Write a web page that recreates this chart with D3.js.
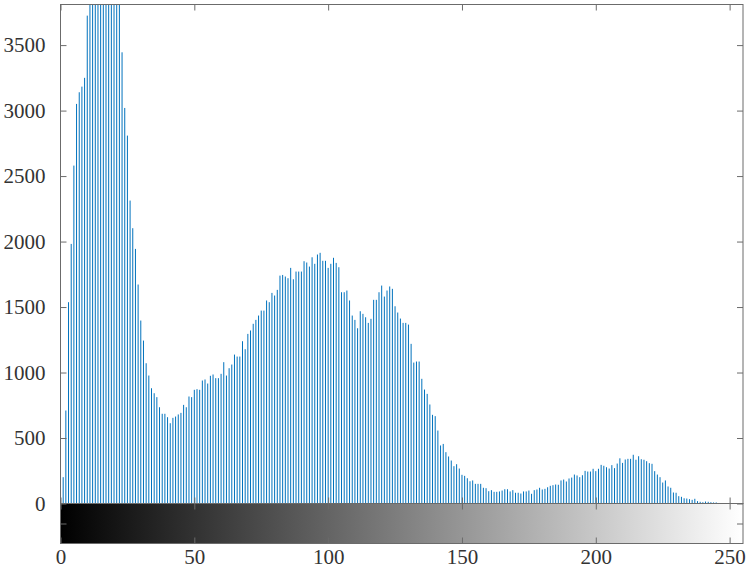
<!DOCTYPE html>
<html>
<head>
<meta charset="utf-8">
<script src="https://cdn.jsdelivr.net/npm/d3@7"></script>
<style>
body { margin: 0; background: #fff; }
text { font-family: "Liberation Serif", "Times New Roman", serif; }
</style>
</head>
<body>
<svg id="chart"></svg>
<script>
// pixel counts per gray level 0..255 (levels 11-22 run past the top of the axes)
var counts = [
	420, 201, 710, 1537, 1982, 2580, 3051, 3140, 3183, 3250,
	3725, 4050, 4400, 4700, 4900, 5000, 5050, 4950, 4800, 4600,
	4400, 4200, 3950, 3445, 3020, 2809, 2313, 2102, 1944, 1672,
	1397, 1244, 1071, 977, 880, 842, 812, 735, 685, 685,
	659, 613, 654, 664, 680, 692, 753, 735, 817, 812,
	868, 873, 868, 939, 947, 916, 975, 985, 957, 957,
	990, 1079, 977, 1033, 1061, 1137, 1122, 1122, 1239, 1178,
	1295, 1321, 1372, 1402, 1435, 1473, 1473, 1550, 1537, 1608,
	1588, 1631, 1740, 1745, 1733, 1720, 1799, 1712, 1771, 1771,
	1771, 1850, 1840, 1809, 1880, 1830, 1901, 1914, 1853, 1853,
	1799, 1830, 1876, 1837, 1804, 1613, 1613, 1626, 1550, 1435,
	1402, 1338, 1468, 1448, 1422, 1379, 1410, 1555, 1555, 1613,
	1664, 1580, 1626, 1657, 1639, 1506, 1458, 1412, 1379, 1379,
	1366, 1219, 1076, 1084, 1084, 952, 870, 837, 756, 677,
	667, 557, 443, 455, 392, 359, 328, 285, 300, 267,
	219, 211, 193, 170, 176, 150, 150, 150, 120, 117,
	94, 102, 89, 89, 92, 99, 109, 109, 92, 102,
	82, 82, 76, 92, 92, 99, 74, 102, 107, 120,
	107, 112, 124, 135, 140, 145, 143, 176, 183, 168,
	191, 198, 221, 214, 201, 216, 249, 244, 244, 265,
	247, 265, 295, 288, 277, 267, 293, 270, 305, 345,
	310, 336, 341, 341, 372, 334, 361, 338, 334, 323,
	308, 303, 247, 221, 201, 160, 176, 130, 120, 84,
	82, 56, 51, 40, 38, 33, 28, 36, 18, 13,
	10, 15, 13, 10, 8, 8, 4, 3, 2, 1,
	0, 2, 0, 0, 0, 0
];
var levels = d3.range(counts.length);
var xTicks = [0, 50, 100, 150, 200, 250];
var yTicks = [0, 500, 1000, 1500, 2000, 2500, 3000, 3500];
var xLimits = [0, 255];
var yLimits = [0, 3810];

var width = 750, height = 570;
var plotLeft = 60.5, plotRight = 743, plotTop = 4.5, base = 503.5, barBottom = 543.5;
var axisColor = "#6b6b6b";
var textColor = "#333";

var svg = d3.select("#chart").attr("width", width).attr("height", height);

var x = d3.scaleLinear().domain(xLimits).range([plotLeft, plotRight]);
var y = d3.scaleLinear().domain(yLimits).range([base, plotTop]);
var cbY = d3.scaleLinear().domain([0, 2]).range([barBottom, base]);

var defs = svg.append("defs");
defs.append("clipPath").attr("id", "plotClip")
	.append("rect")
	.attr("x", plotLeft).attr("y", plotTop)
	.attr("width", plotRight - plotLeft).attr("height", base - plotTop);

var grad = defs.append("linearGradient").attr("id", "grayRamp")
	.attr("x1", "0%").attr("x2", "100%").attr("y1", "0%").attr("y2", "0%");
grad.append("stop").attr("offset", "0%").attr("stop-color", "#000");
grad.append("stop").attr("offset", "100%").attr("stop-color", "#fff");

// stems
svg.append("g").attr("clip-path", "url(#plotClip)")
	.selectAll("line")
	.data(levels)
	.enter()
	.append("line")
	.attr("x1", function(d) { return x(d); })
	.attr("x2", function(d) { return x(d); })
	.attr("y1", y(0))
	.attr("y2", function(d) { return y(counts[d]); })
	.attr("stroke", "#0072BD")
	.attr("stroke-width", 1);

// gray colorbar under the histogram
svg.append("rect")
	.attr("x", plotLeft).attr("y", base)
	.attr("width", plotRight - plotLeft).attr("height", barBottom - base)
	.attr("fill", "url(#grayRamp)");

function styleAxis(g) {
	g.select(".domain").remove();
	g.selectAll(".tick line").attr("stroke", axisColor);
	g.selectAll("text")
		.attr("fill", textColor)
		.style("font-size", "21px")
		.style("font-family", "'Liberation Serif', 'Times New Roman', serif");
}

// histogram axes
svg.append("g").attr("transform", "translate(" + plotLeft + ",0)")
	.call(d3.axisLeft(y).tickValues(yTicks).tickFormat(d3.format("d"))
		.tickSizeInner(-6).tickSizeOuter(0).tickPadding(15))
	.call(styleAxis);
svg.append("g").attr("transform", "translate(" + plotRight + ",0)")
	.call(d3.axisRight(y).tickValues(yTicks).tickSizeInner(-6).tickSizeOuter(0).tickFormat(""))
	.call(styleAxis);
svg.append("g").attr("transform", "translate(0," + plotTop + ")")
	.call(d3.axisTop(x).tickValues(xTicks).tickSizeInner(-6).tickSizeOuter(0).tickFormat(""))
	.call(styleAxis);
svg.append("g").attr("transform", "translate(0," + base + ")")
	.call(d3.axisBottom(x).tickValues(xTicks).tickSizeInner(-6).tickSizeOuter(0).tickFormat(""))
	.call(styleAxis);

// colorbar axes
svg.append("g").attr("transform", "translate(0," + base + ")")
	.call(d3.axisTop(x).tickValues(xTicks).tickSizeInner(-6).tickSizeOuter(0).tickFormat(""))
	.call(styleAxis);
svg.append("g").attr("transform", "translate(0," + barBottom + ")")
	.call(d3.axisBottom(x).tickValues(xTicks).tickFormat(d3.format("d"))
		.tickSizeInner(-6).tickSizeOuter(0).tickPadding(6))
	.call(styleAxis);
svg.append("g").attr("transform", "translate(" + plotLeft + ",0)")
	.call(d3.axisLeft(cbY).tickValues([1]).tickSizeInner(-6).tickSizeOuter(0).tickFormat(""))
	.call(styleAxis);
svg.append("g").attr("transform", "translate(" + plotRight + ",0)")
	.call(d3.axisRight(cbY).tickValues([1]).tickSizeInner(-6).tickSizeOuter(0).tickFormat(""))
	.call(styleAxis);

// boxes
svg.append("rect")
	.attr("x", plotLeft).attr("y", plotTop)
	.attr("width", plotRight - plotLeft).attr("height", base - plotTop)
	.attr("fill", "none").attr("stroke", axisColor);
svg.append("rect")
	.attr("x", plotLeft).attr("y", base)
	.attr("width", plotRight - plotLeft).attr("height", barBottom - base)
	.attr("fill", "none").attr("stroke", axisColor);
</script>
</body>
</html>
